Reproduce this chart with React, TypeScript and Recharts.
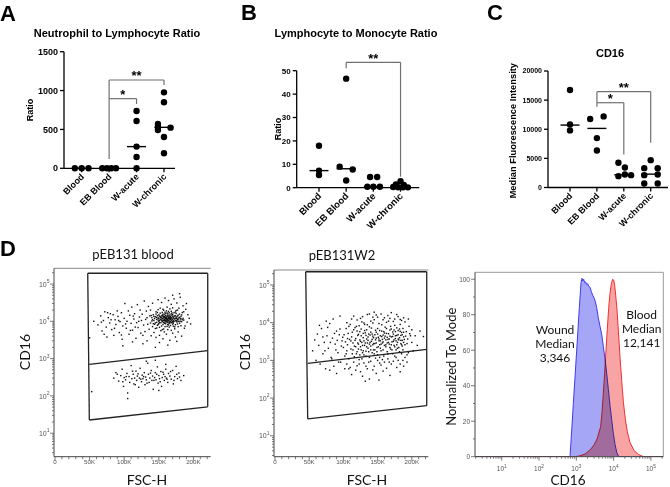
import React from 'react';
import { ScatterChart, ComposedChart, Scatter, Area, XAxis, YAxis, ReferenceLine, ReferenceDot } from 'recharts';

const GP = "'Liberation Sans', Arial, Helvetica, sans-serif";
const FJ = "Lato, 'Open Sans', 'Noto Sans', sans-serif";

// ---------- Panels A-C (GraphPad style) ----------
const groups = ['Blood', 'EB Blood', 'W-acute', 'W-chronic'];

const nlrValues = [[0, 0, 0], [0, 0, 0, 0], [737, 609, 279, 146, 0], [977, 849, 570, 530, 493, 523, 403, 193]];
const nlrJitter = [[-0.25, 0, 0.25], [-0.25, -0.08, 0.08, 0.25], [0, 0, 0, 0, 0], [0, 0, -0.22, -0.22, -0.22, 0.24, 0, 0]];
const nlrMedians = [0, 0, 279, 527];
const nlrTicks = [0, 500, 1000, 1500];
const nlrBrackets = [
  { from: 1, to: 3, y: 1136, leftTo: 896, rightTo: 1071, label: '**' },
  { from: 1, to: 2, y: 896, leftTo: 120, rightTo: 827, label: '*' },
];

const lmrValues = [[17.9, 7.3, 5.4], [46.6, 9.0, 7.8, 3.1], [4.6, 4.6, 0.4, 0.4, 0.4], [2.8, 1.4, 1.2, 0.3, 0.2, 0.2, 0.15]];
const lmrJitter = [[0, 0, 0], [0, -0.24, 0.24, 0], [-0.12, 0.14, -0.22, 0, 0.24], [0, -0.17, 0.12, -0.27, -0.09, 0.09, 0.27]];
const lmrMedians = [7.3, 8.1, 0.4, 0.4];
const lmrTicks = [0, 10, 20, 30, 40, 50];
const lmrBrackets = [{ from: 1, to: 3, y: 53.6, leftTo: 51, rightTo: 4.7, label: '**' }];

const cd16Values = [[16734, 10831, 9799], [11748, 12206, 8481, 6361], [4241, 3438, 2235, 1948, 2120], [4699, 3324, 3324, 2120, 2235, 688, 688]];
const cd16Jitter = [[0, 0, 0], [-0.25, 0.25, 0, 0], [-0.2, 0.04, 0.04, -0.2, 0.27], [0, -0.24, 0.26, -0.24, 0.26, -0.24, 0.26]];
const cd16Medians = [10716, 10143, 2180, 2292];
const cd16Ticks = [0, 5000, 10000, 15000, 20000];
const cd16Brackets = [
  { from: 1, to: 3, y: 16447, leftTo: 14556, rightTo: 7679, label: '**' },
  { from: 1, to: 2, y: 14556, leftTo: 13868, rightTo: 5673, label: '*' },
];

// ---------- Panel D flow data (FSC-H in K, CD16) ----------
const bloodDots = [
  [138,9000],[140,12500],[141,7200],[142,15000],[143,10500],[144,8300],[145,13200],[145,6400],[146,18000],[147,11200],[147,9400],[148,14100],[148,7800],[149,12000],[149,20500],[150,10000],[150,8700],[151,13800],[151,6900],[152,11500],[152,16500],[153,9200],[153,12800],[154,10800],[154,7500],[155,14600],[155,11900],[155,9800],[156,8200],[156,13400],[156,21000],[157,10400],[157,12300],[157,6200],[158,15500],[158,11100],[158,9000],[159,13000],[159,10200],[159,17500],[160,11800],[160,8600],[160,14200],[160,12500],[161,9700],[161,10900],[161,19000],[162,13600],[162,7300],[162,11400],[163,12100],[163,15800],[163,9300],[164,10600],[164,13900],[164,8000],[165,11700],[165,16900],[165,10100],[166,12700],[166,9100],[166,14800],[167,11300],[167,7700],[167,13300],[168,10700],[168,18500],[168,12400],[169,9500],[169,14400],[170,11000],[170,8400],[170,15200],[171,12600],[171,10300],[172,13700],[172,9900],[172,17000],[173,11600],[173,7100],[174,14000],[174,10500],[175,12200],[175,16200],[176,9600],[176,13100],[177,11200],[177,20000],[178,10000],[178,14700],[179,12300],[180,8900],[180,15600],[181,11500],[182,13500],[183,9800],[184,17200],[185,12000],[186,10800],[153,5600],[158,5200],[163,6000],[168,5700],[173,6300],[148,17200],[152,22500],[162,24000],[170,23000],[157,19800],[166,21500],[175,19500],[179,22500],[150,14900],[165,8800],[171,7400],[144,11900],[146,15600],[155,17300],[160,16000],[164,18400],[169,16700],[174,8100],[178,7200],[183,14800],[140,10200],[142,8600],[139,14300],[158,12900],[161,12200],[163,10900],[159,11600],[162,9900],[166,11000],[157,13800],[154,12400],[167,9800],
  [141,11000],[143,13500],[145,9000],[147,12700],[149,8200],[150,12200],[151,10600],[152,13300],[153,11000],[154,14000],[155,10300],[156,11600],[157,9300],[158,13500],[159,8800],[160,10500],[161,13000],[162,10700],[163,14500],[164,11900],[165,9500],[166,13700],[167,12000],[168,9200],[169,11800],[170,13200],[171,9700],[172,11800],[173,13800],[174,12000],[175,10200],[176,11800],[177,13800],[178,11500],[179,9900],[180,12800],[181,10100],[182,11800],[184,11000],[156,15500],[162,16800],[168,15800],[174,17800],[151,9200],[159,7200],[165,7000],[171,8900],[177,8500],[182,7600],[147,6600],[155,6000],[149,10800],[163,8200],[170,9800],[176,10400],[160,9800],[158,10600],[166,12300],[161,11400],[164,12800],
  [62,8000],[66,14000],[68,5500],[70,10500],[72,18000],[74,7000],[75,3800],[77,12500],[79,9000],[80,16000],[82,6000],[84,15000],[85,4200],[87,11000],[88,8200],[90,19000],[91,13500],[93,5000],[94,9800],[96,17000],[97,3300],[98,7500],[100,12000],[101,30000],[103,6500],[104,10000],[106,19000],[107,4500],[108,14500],[110,8800],[111,24000],[112,5800],[114,11500],[115,16000],[117,3500],[118,9200],[119,28000],[120,6800],[122,13000],[123,20000],[124,4800],[125,10500],[126,15500],[128,7900],[129,35000],[130,5300],[131,11200],[132,18800],[133,3000],[134,8300],[135,25000],[136,6100],[137,14000],[139,4100],[141,30500],[143,5000],[146,3700],[149,38000],[151,4200],[154,32000],[156,3400],[159,42000],[161,4500],[164,36000],[166,3100],[168,28500],[170,4800],[172,40000],[174,3800],[176,31000],[178,5200],[181,44000],[183,4000],[185,26000],[187,6500],[189,21000],[191,9500],[192,15000],[194,12000],[196,8500],[151,2700],[163,2300],[176,2900],[145,2000],[50,3600],[56,10000],[180,55000],
  [67,9500],[71,4500],[76,17000],[81,11000],[86,6500],[92,10500],[96,4300],[102,8500],[109,5700],[113,13800],[116,7000],[121,10000],[127,4200],[133,12500],[138,20000],[127,2500],[112,2800],[98,2200],[188,7500],[186,18000],[190,30000],[170,50000],
  [85,300],[88,420],[92,250],[95,350],[97,520],[99,180],[100,310],[102,270],[104,400],[105,120],[105,85],[107,330],[108,230],[110,650],[111,290],[113,380],[114,210],[115,300],[117,460],[118,260],[119,340],[121,170],[122,300],[123,550],[125,240],[126,360],[127,290],[129,420],[130,200],[131,320],[132,270],[134,750],[135,380],[136,230],[137,300],[139,480],[140,260],[141,340],[142,150],[144,310],[145,420],[146,270],[148,600],[149,220],[150,350],[151,290],[153,450],[154,180],[155,310],[157,380],[158,260],[160,520],[161,300],[163,230],[164,400],[166,340],[168,280],[170,480],[171,210],[173,330],[175,620],[177,290],[179,410],[182,260],[186,350],[53,130],[145,900],[132,850],[160,700],[150,140],
  [90,380],[98,240],[103,330],[112,460],[116,200],[120,390],[124,280],[128,330],[133,220],[138,410],[143,260],[147,380],[152,240],[156,430],[159,330],[162,280],[167,450],[172,260],[176,380],[180,320],
];

const woundDots = [
  [100,2200],[101,4800],[102,1300],[103,3100],[104,7000],[105,1800],[106,2600],[107,5200],[108,1100],[109,3600],[110,9000],[111,2000],[112,4200],[113,1500],[114,2900],[115,6500],[116,1250],[117,3400],[118,2300],[119,8000],[120,1700],[121,4600],[122,2700],[123,1050],[124,5800],[125,3200],[126,1900],[127,10500],[128,2500],[129,4000],[130,1400],[131,6200],[132,2900],[133,1750],[134,3700],[135,8800],[136,2100],[137,5000],[138,1200],[139,3000],[140,2400],[141,7200],[142,1600],[143,4400],[144,2800],[145,12000],[146,1900],[147,3500],[148,5600],[149,2200],[150,1400],[151,4100],[152,9500],[153,2600],[154,3300],[155,1800],[156,6000],[157,2900],[158,4700],[159,1300],[160,3900],[161,7600],[162,2300],[163,5200],[164,1700],[165,3600],[166,11000],[167,2700],[168,4400],[169,2000],[170,6800],[171,3100],[172,1500],[173,5000],[174,2500],[175,8500],[176,3800],[177,1900],[178,4600],[179,3000],[180,6200],[181,2200],[182,4000],[183,9000],[184,2800],[185,5500],[186,3400],[187,7000],[188,4200],[190,2600],[192,5800],[194,3700],[196,8000],[198,4500],
  [118,3800],[120,6000],[122,2000],[124,3500],[126,4500],[128,1600],[130,3300],[132,5400],[134,2300],[136,4200],[138,2700],[140,5600],[142,3600],[144,1900],[146,4800],[148,2900],[150,7000],[152,3700],[154,2100],[156,4300],[158,3100],[160,5300],[162,2600],[164,4100],[166,3000],[168,6400],[170,2600],[172,4300],[174,3500],[176,5800],[178,2600],[180,3700],[182,6800],[184,4600],[186,2400],[188,3000],
  [111,3300],[113,5600],[114,1900],[116,2400],[117,7400],[119,1500],[121,2900],[122,4900],[123,8300],[124,1400],[125,2300],[126,6800],[127,3000],[129,1800],[129,5200],[131,2500],[131,9000],[133,4600],[133,1300],[134,6500],[135,2900],[136,3400],[137,1700],[138,7800],[139,4700],[140,1900],[141,3200],[142,5000],[143,2600],[143,9800],[144,4000],[145,1500],[146,2800],[147,6300],[148,3900],[149,1700],[150,5000],[151,2300],[152,3300],[153,6200],[153,1200],[154,4500],[155,2700],[156,8800],[157,3600],[158,1900],[159,5800],[160,2500],[161,4400],[162,3500],[163,7000],[164,2900],[165,1500],[166,5100],[167,3700],[168,2200],[169,8000],[170,4200],[171,1900],[172,5700],[173,3200],[174,6400],[175,2300],[176,4500],[177,3300],[178,7300],[179,2100],[180,4800],[181,3500],[182,1700],[183,5900],[184,3400],[185,2600],[186,4800],[187,1900],[188,5600],[189,3600],[191,4400],[193,2800],[197,5100],
  [105,800],[110,650],[115,900],[120,720],[125,500],[130,850],[135,600],[140,950],[145,700],[150,1000],[155,750],[160,900],[165,1100],[170,800],[175,1300],[180,1000],[185,1500],[190,1200],[112,420],[128,380],[138,320],[148,450],[158,520],[168,400],[178,650],[132,280],[152,300],
  [108,600],[118,550],[123,800],[133,700],[143,560],[153,850],[163,620],[173,950],[183,800],[193,1400],[127,1100],[137,900],[147,1150],[157,1050],[167,900],[177,1200],[187,1000],
  [115,15000],[125,13000],[135,16500],[145,19000],[150,14000],[155,17000],[160,13500],[165,15500],[170,18500],[175,12500],[180,14500],[185,11500],[140,11000],[130,9800],[120,11800],[190,10500],[195,12500],[200,6500],
  [105,10000],[112,12500],[128,14500],[138,17000],[148,16000],[158,12000],[168,13000],[178,16500],[188,13500],[143,14000],[163,10200],[173,10800],[183,12200],
  [55,1800],[58,3500],[60,1000],[62,5000],[64,2500],[66,800],[68,7000],[70,1500],[72,3000],[74,600],[76,4500],[78,2100],[80,9500],[82,1200],[84,3900],[86,700],[88,2700],[90,6000],[92,1600],[94,4800],[96,900],[98,3300],[75,11000],[85,12500],[95,15000],[65,8500],[90,450],[80,550],
  [70,4200],[73,1800],[77,7500],[81,3000],[83,1100],[87,5200],[89,1900],[91,3400],[93,900],[95,6800],[97,2400],[99,4100],[102,600],[104,1500],[106,3800],[108,8000],
  [200,3000],[202,1800],[205,4500],[208,2500],[212,6000],[217,4300],[195,1600],[193,900],[188,700],[183,500],
];

const bloodGate = { outer: [[47.3, 194000], [220.7, 194000], [220.7, 51], [49.6, 22.6]], split: [[49.6, 703], [220.7, 1630]] };
const woundGate = { outer: [[44.9, 225000], [221.8, 225000], [221.8, 63], [47.8, 28]], split: [[47.8, 838], [221.8, 1970]] };

const fscTicks = [0, 10, 20, 30, 40, 50, 60, 70, 80, 90, 100, 110, 120, 130, 140, 150, 160, 170, 180, 190, 200, 210, 220];
const logMajor = [10, 100, 1000, 10000, 100000];
const flowLogTicks = [3, 4, 5, 6, 7, 8, 9, 10, 20, 30, 40, 50, 60, 70, 80, 90, 100, 200, 300, 400, 500, 600, 700, 800, 900, 1000, 2000, 3000, 4000, 5000, 6000, 7000, 8000, 9000, 10000, 20000, 30000, 40000, 50000, 60000, 70000, 80000, 90000, 100000, 200000];
const histLogTicks = [2, ...flowLogTicks];
const histYTicks = [0, 10, 20, 30, 40, 50, 60, 70, 80, 90, 100];

// ---------- Histogram (CD16, normalized to mode) ----------
const woundHist = [[2,0],[678,0],[753,15],[832,30],[1023,60],[1205,84],[1337,98],[1422,100.5],[1482,99],[1577,100],[1675,98],[1782,98.5],[1897,97],[2017,97.5],[2147,96],[2330,95.5],[2530,93],[2748,91],[2985,89.5],[3238,87.5],[3516,84],[3899,78],[4317,73.5],[4785,69],[5308,62],[5875,55],[6518,47],[7224,38],[8004,29],[8872,21],[9840,13],[10914,7],[12090,2.5],[13680,0],[210000,0]];
const bloodHist = [[2,0],[923,0],[1256,0.5],[1711,1.5],[2330,3.8],[2985,6.6],[3664,10.4],[4498,17],[4883,25],[5308,36],[5754,47],[6248,60],[6786,72],[7376,84],[8004,92],[8690,97.5],[9440,100],[10046,99.5],[10685,96.5],[11357,91],[12090,85],[12853,77],[13680,68],[14860,56],[16450,43],[18240,31],[20640,21],[23360,14],[27540,8],[35260,3.5],[46070,1.3],[62720,0],[210000,0]];

// ---------- helpers ----------
const Dot = (p: any) => <circle cx={p.cx} cy={p.cy} r={3.2} fill="#000" />;
const MedianBar = (p: any) => <line x1={p.cx - 9.5} x2={p.cx + 9.5} y1={p.cy} y2={p.cy} stroke="#000" strokeWidth={1.4} />;
const FlowDot = (p: any) => <rect x={p.cx - 0.7} y={p.cy - 0.7} width={1.4} height={1.4} fill="#111" />;

const makeCatTick = (fontSize: number) => (p: any) => (
  <g>
    <line x1={p.x} y1={p.y} x2={p.x} y2={p.y + 4} stroke="#000" strokeWidth={1.3} />
    <text x={p.x + 3} y={p.y + 9} textAnchor="end" transform={`rotate(-45 ${p.x + 3} ${p.y + 9})`} fontSize={fontSize} fontWeight={700} fontFamily={GP} fill="#000">
      {groups[p.payload.value]}
    </text>
  </g>
);

const FscTick = (p: any) => {
  const v = p.payload.value;
  const major = v % 50 === 0;
  return (
    <g>
      <line x1={p.x} x2={p.x} y1={p.y} y2={p.y + (major ? 4 : 2.5)} stroke="#555" strokeWidth={0.8} />
      {major && (
        <text x={p.x} y={p.y + 7.6} textAnchor="middle" fontSize={6.2} fill="#555" fontFamily={GP}>
          {v === 0 ? '0' : `${v}K`}
        </text>
      )}
    </g>
  );
};

const LogYTick = (p: any) => {
  const v = p.payload.value;
  const major = logMajor.includes(v);
  return (
    <g>
      <line x1={p.x} x2={p.x - (major ? 4 : 2)} y1={p.y} y2={p.y} stroke="#555" strokeWidth={0.8} />
      {major && (
        <text x={p.x - 4.5} y={p.y + 2.7} textAnchor="end" fontSize={7} fill="#555" fontFamily={GP}>
          10<tspan dy={-3.8} fontSize={5}>{Math.round(Math.log10(v))}</tspan>
        </text>
      )}
    </g>
  );
};

const LogXTick = (p: any) => {
  const v = p.payload.value;
  const major = logMajor.includes(v);
  return (
    <g>
      <line x1={p.x} x2={p.x} y1={p.y} y2={p.y + (major ? 4 : 2)} stroke="#555" strokeWidth={0.8} />
      {major && (
        <text x={p.x} y={p.y + 14.5} textAnchor="middle" fontSize={6.5} fill="#555" fontFamily={GP}>
          10<tspan dy={-3.5} fontSize={4.8}>{Math.round(Math.log10(v))}</tspan>
        </text>
      )}
    </g>
  );
};

const HistYTick = (p: any) => {
  const v = p.payload.value;
  const major = v % 20 === 0;
  return (
    <g>
      <line x1={p.x} x2={p.x - (major ? 4 : 2)} y1={p.y} y2={p.y} stroke="#555" strokeWidth={0.8} />
      {major && (
        <text x={p.x - 5} y={p.y + 2.3} textAnchor="end" fontSize={6.5} fill="#555" fontFamily={GP}>
          {v}
        </text>
      )}
    </g>
  );
};

type Box = { left: number; top: number; width: number; height: number };
type Plot = { left: number; top: number; right: number; bottom: number };

function GroupPanel(props: any) {
  const { box, plot, xDomain, yDomain, yTicks, yFont, catFont, values, jitter, medians, brackets } = props;
  const pts = values.flatMap((g: number[], i: number) => g.map((v, j) => ({ x: i + jitter[i][j], y: v })));
  const med = medians.map((m: number, i: number) => ({ x: i, y: m }));
  const margin = { top: plot.top - box.top, right: box.left + box.width - plot.right, bottom: 0, left: 0 };
  const br = '#707070';
  return (
    <div style={{ position: 'absolute', left: box.left, top: box.top }}>
      <ScatterChart width={box.width} height={box.height} margin={margin}>
        <XAxis type="number" dataKey="x" domain={xDomain} ticks={[0, 1, 2, 3]} interval={0}
          height={box.top + box.height - plot.bottom} tickSize={0} tickMargin={0} tickLine={false}
          axisLine={{ stroke: '#000', strokeWidth: 1.3 }} tick={makeCatTick(catFont)} />
        <YAxis type="number" dataKey="y" domain={yDomain} ticks={yTicks} interval={0}
          width={plot.left - box.left} tickSize={4} tickMargin={2}
          tickLine={{ stroke: '#000', strokeWidth: 1.3 }} axisLine={{ stroke: '#000', strokeWidth: 1.3 }}
          tick={{ fill: '#000', fontSize: yFont, fontWeight: 700, fontFamily: GP }} />
        {brackets.map((b: any, k: number) => (
          <ReferenceLine key={'h' + k} segment={[{ x: b.from, y: b.y }, { x: b.to, y: b.y }]} stroke={br} strokeWidth={1.2} ifOverflow="visible" />
        ))}
        {brackets.map((b: any, k: number) => (
          <ReferenceLine key={'l' + k} segment={[{ x: b.from, y: b.y }, { x: b.from, y: b.leftTo }]} stroke={br} strokeWidth={1.2} ifOverflow="visible" />
        ))}
        {brackets.map((b: any, k: number) => (
          <ReferenceLine key={'r' + k} segment={[{ x: b.to, y: b.y }, { x: b.to, y: b.rightTo }]} stroke={br} strokeWidth={1.2} ifOverflow="visible" />
        ))}
        {brackets.map((b: any, k: number) => (
          <ReferenceDot key={'s' + k} x={(b.from + b.to) / 2} y={b.y} r={0} ifOverflow="visible"
            shape={(p: any) => (
              <text x={p.cx} y={p.cy + 0.5} textAnchor="middle" fontSize={13} fontWeight={700} fontFamily={GP} fill="#000">{b.label}</text>
            )} />
        ))}
        <Scatter data={med} shape={MedianBar} isAnimationActive={false} />
        <Scatter data={pts} shape={Dot} isAnimationActive={false} />
      </ScatterChart>
    </div>
  );
}

function FlowPanel(props: any) {
  const { box, plot, xDomain, yDomain, dots, gate } = props;
  const margin = { top: plot.top - box.top, right: box.left + box.width - plot.right, bottom: 0, left: 0 };
  const data = dots.map((d: number[]) => ({ x: d[0], y: d[1] }));
  const o = gate.outer;
  const edges = [[o[0], o[1]], [o[1], o[2]], [o[2], o[3]], [o[3], o[0]], [gate.split[0], gate.split[1]]];
  return (
    <div style={{ position: 'absolute', left: box.left, top: box.top }}>
      <ScatterChart width={box.width} height={box.height} margin={margin}>
        <XAxis type="number" dataKey="x" domain={xDomain} ticks={fscTicks} interval={0} allowDataOverflow
          height={box.top + box.height - plot.bottom} tickSize={0} tickMargin={0} tickLine={false}
          axisLine={{ stroke: '#444', strokeWidth: 1 }} tick={FscTick} />
        <YAxis type="number" dataKey="y" scale="log" domain={yDomain} ticks={flowLogTicks} interval={0} allowDataOverflow
          width={plot.left - box.left} tickSize={0} tickMargin={0} tickLine={false}
          axisLine={{ stroke: '#444', strokeWidth: 1 }} tick={LogYTick} />
        <ReferenceLine y={yDomain[1]} stroke="#888" strokeWidth={1} ifOverflow="visible" />
        <Scatter data={data} shape={FlowDot} isAnimationActive={false} />
        {edges.map((e, k) => (
          <ReferenceLine key={k} segment={[{ x: e[0][0], y: e[0][1] }, { x: e[1][0], y: e[1][1] }]} stroke="#222" strokeWidth={1.3} ifOverflow="visible" />
        ))}
      </ScatterChart>
    </div>
  );
}

function HistPanel() {
  const box: Box = { left: 440, top: 230, width: 230, height: 257 };
  const plot: Plot = { left: 475, top: 272.3, right: 663.3, bottom: 456.7 };
  const margin = { top: plot.top - box.top, right: box.left + box.width - plot.right, bottom: 0, left: 0 };
  const xDomain = [1.92, 214800];
  const yDomain = [0, 103.9];
  const wound = woundHist.map((d) => ({ x: d[0], y: d[1] }));
  const blood = bloodHist.map((d) => ({ x: d[0], y: d[1] }));
  return (
    <div style={{ position: 'absolute', left: box.left, top: box.top }}>
      <ComposedChart width={box.width} height={box.height} margin={margin}>
        <XAxis type="number" dataKey="x" scale="log" domain={xDomain} ticks={histLogTicks} interval={0} allowDataOverflow
          height={box.top + box.height - plot.bottom} tickSize={0} tickMargin={0} tickLine={false}
          axisLine={{ stroke: '#444', strokeWidth: 1 }} tick={LogXTick} />
        <YAxis type="number" dataKey="y" domain={yDomain} ticks={histYTicks} interval={0} allowDataOverflow
          width={plot.left - box.left} tickSize={0} tickMargin={0} tickLine={false}
          axisLine={{ stroke: '#444', strokeWidth: 1 }} tick={HistYTick} />
        <ReferenceLine y={yDomain[1]} stroke="#999" strokeWidth={1} ifOverflow="visible" />
        <ReferenceLine x={xDomain[1]} stroke="#999" strokeWidth={1} ifOverflow="visible" />
        <Area data={wound} dataKey="y" type="linear" stroke="#3b3bf2" strokeWidth={1} fill="#a6a6f6" fillOpacity={1} isAnimationActive={false} dot={false} activeDot={false} />
        <Area data={blood} dataKey="y" type="linear" className="blend-area" stroke="#f2302f" strokeWidth={1} fill="#f8a4a4" fillOpacity={1} isAnimationActive={false} dot={false} activeDot={false} />
      </ComposedChart>
    </div>
  );
}

export default function App() {
  return (
    <div style={{ position: 'absolute', left: 0, top: 0, width: 670, height: 487, background: '#fff', overflow: 'hidden' }}>
      <style>{`.blend-area { mix-blend-mode: multiply; }`}</style>
      <GroupPanel
        box={{ left: 0, top: 0, width: 230, height: 230 }}
        plot={{ left: 64, top: 51.7, right: 175, bottom: 168.3 }}
        xDomain={[-0.645, 3.402]} yDomain={[0, 1500]} yTicks={nlrTicks} yFont={9} catFont={9}
        values={nlrValues} jitter={nlrJitter} medians={nlrMedians} brackets={nlrBrackets} />
      <GroupPanel
        box={{ left: 220, top: 0, width: 230, height: 230 }}
        plot={{ left: 296.7, top: 70.7, right: 419.3, bottom: 187.7 }}
        xDomain={[-0.82, 3.69]} yDomain={[0, 50]} yTicks={lmrTicks} yFont={8} catFont={9.5}
        values={lmrValues} jitter={lmrJitter} medians={lmrMedians} brackets={lmrBrackets} />
      <GroupPanel
        box={{ left: 440, top: 0, width: 230, height: 230 }}
        plot={{ left: 548, top: 71, right: 668, bottom: 187.5 }}
        xDomain={[-0.818, 3.643]} yDomain={[0, 20000]} yTicks={cd16Ticks} yFont={7} catFont={9}
        values={cd16Values} jitter={cd16Jitter} medians={cd16Medians} brackets={cd16Brackets} />
      <FlowPanel
        box={{ left: 0, top: 230, width: 230, height: 257 }}
        plot={{ left: 54, top: 268.3, right: 210.7, bottom: 456.7 }}
        xDomain={[-1.45, 225]} yDomain={[2.345, 263600]} dots={bloodDots} gate={bloodGate} />
      <FlowPanel
        box={{ left: 220, top: 230, width: 230, height: 257 }}
        plot={{ left: 274, top: 270, right: 428.3, bottom: 456.7 }}
        xDomain={[-1.46, 224.1]} yDomain={[2.79, 250000]} dots={woundDots} gate={woundGate} />
      <HistPanel />
      <svg width={670} height={487} style={{ position: 'absolute', left: 0, top: 0, pointerEvents: 'none' }}>
        <g fontFamily={GP} fontWeight={700} fill="#000">
          <text x={0} y={21} fontSize={22}>A</text>
          <text x={241} y={20} fontSize={22}>B</text>
          <text x={487} y={20} fontSize={22}>C</text>
          <text x={0} y={256} fontSize={22}>D</text>
          <text x={117} y={37} fontSize={11} textAnchor="middle">Neutrophil to Lymphocyte Ratio</text>
          <text x={356} y={37} fontSize={11} textAnchor="middle">Lymphocyte to Monocyte Ratio</text>
          <text x={610} y={57} fontSize={11} textAnchor="middle">CD16</text>
          <text transform="translate(33.2,110) rotate(-90)" fontSize={9} textAnchor="middle">Ratio</text>
          <text transform="translate(280.7,129) rotate(-90)" fontSize={9} textAnchor="middle">Ratio</text>
          <text transform="translate(515.6,130.7) rotate(-90)" fontSize={9.3} textAnchor="middle">Median Fluorescence Intensity</text>
        </g>
        <g fontFamily={FJ} fill="#111">
          <text x={133} y={259} fontSize={13} textAnchor="middle">pEB131 blood</text>
          <text x={342} y={260} fontSize={13} textAnchor="middle">pEB131W2</text>
          <text transform="translate(30,352) rotate(-90)" fontSize={14} textAnchor="middle">CD16</text>
          <text transform="translate(250,352) rotate(-90)" fontSize={14} textAnchor="middle">CD16</text>
          <text x={147} y={484.5} fontSize={14} textAnchor="middle">FSC-H</text>
          <text x={367} y={484.5} fontSize={14} textAnchor="middle">FSC-H</text>
          <text transform="translate(456.4,366.7) rotate(-90)" fontSize={13} textAnchor="middle">Normalized To Mode</text>
          <text x={568} y={484.5} fontSize={13.5} textAnchor="middle">CD16</text>
          <text x={555} y={334} fontSize={12} textAnchor="middle">Wound</text>
          <text x={555} y={348} fontSize={12} textAnchor="middle">Median</text>
          <text x={555} y={362} fontSize={12} textAnchor="middle">3,346</text>
          <text x={641.7} y={318.5} fontSize={12} textAnchor="middle">Blood</text>
          <text x={641.7} y={333} fontSize={12} textAnchor="middle">Median</text>
          <text x={641.7} y={347} fontSize={12} textAnchor="middle">12,141</text>
        </g>
      </svg>
    </div>
  );
}
